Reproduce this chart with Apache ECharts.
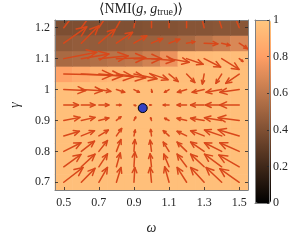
<!DOCTYPE html>
<html>
<head>
<meta charset="utf-8">
<style>html,body{margin:0;padding:0;background:#fff;}#c{width:291px;height:240px;}</style>
<script src="https://cdn.jsdelivr.net/npm/echarts@6/dist/echarts.min.js"></script>
</head>
<body>
<div id="c"></div>
<script>
// ---- data ----
const omega = [0.5, 0.6, 0.7, 0.8, 0.9, 1.0, 1.1, 1.2, 1.3, 1.4, 1.5];
const gamma = [0.7, 0.75, 0.8, 0.85, 0.9, 0.95, 1.0, 1.05, 1.1, 1.15, 1.2];
// mean NMI, one row per gamma (bottom to top), one column per omega
const nmi = [
  [0.96, 0.96, 0.96, 0.96, 0.96, 0.96, 0.96, 0.96, 0.96, 0.96, 0.96],
  [0.96, 0.96, 0.96, 0.96, 0.96, 0.96, 0.96, 0.96, 0.96, 0.96, 0.96],
  [0.96, 0.96, 0.96, 0.96, 0.96, 0.96, 0.96, 0.96, 0.96, 0.96, 0.96],
  [0.96, 0.96, 0.96, 0.96, 0.96, 0.96, 0.96, 0.96, 0.96, 0.96, 0.96],
  [0.96, 0.96, 0.96, 0.96, 0.96, 0.96, 0.96, 0.96, 0.96, 0.96, 0.96],
  [0.96, 0.96, 0.96, 0.96, 0.96, 0.96, 0.96, 0.96, 0.96, 0.96, 0.96],
  [0.96, 0.96, 0.96, 0.96, 0.96, 0.96, 0.96, 0.96, 0.96, 0.96, 0.96],
  [0.82, 0.86, 0.90, 0.92, 0.93, 0.94, 0.95, 0.95, 0.96, 0.96, 0.96],
  [0.53, 0.54, 0.56, 0.58, 0.60, 0.65, 0.74, 0.93, 0.94, 0.95, 0.95],
  [0.45, 0.46, 0.46, 0.47, 0.48, 0.49, 0.50, 0.53, 0.58, 0.63, 0.68],
  [0.39, 0.39, 0.40, 0.40, 0.40, 0.41, 0.41, 0.42, 0.42, 0.43, 0.43]
];
// flow vectors: omega component
const flowU = [
  [0.110, 0.078, 0.049, 0.026, 0.005, -0.008, -0.025, -0.054, -0.077, -0.089, -0.111],
  [0.098, 0.078, 0.049, 0.022, 0.005, -0.008, -0.030, -0.054, -0.077, -0.098, -0.116],
  [0.098, 0.075, 0.049, 0.026, 0.005, -0.008, -0.033, -0.054, -0.077, -0.098, -0.111],
  [0.089, 0.075, 0.054, 0.030, 0.007, -0.005, -0.033, -0.054, -0.077, -0.098, -0.120],
  [0.092, 0.078, 0.057, 0.026, 0.010, -0.005, -0.025, -0.054, -0.077, -0.098, -0.120],
  [0.084, 0.078, 0.057, 0.026, 0.010, -0.010, -0.033, -0.054, -0.077, -0.092, -0.111],
  [0.125, 0.120, 0.068, 0.047, 0.031, 0.003, -0.026, -0.052, -0.068, -0.089, -0.110],
  [0.277, 0.235, 0.198, 0.167, 0.131, 0.094, 0.052, 0.047, -0.010, -0.033, -0.077],
  [0.188, 0.157, 0.167, 0.167, 0.157, 0.131, 0.115, 0.094, 0.094, 0.099, 0.021],
  [0.131, 0.099, 0.094, 0.092, 0.073, 0.063, 0.061, 0.047, 0.078, 0.047, 0.047],
  [0.081, 0.077, 0.068, 0.057, 0.016, 0.000, 0.000, 0.000, -0.026, -0.034, -0.042]
];
// flow vectors: gamma component
const flowV = [
  [0.048, 0.045, 0.048, 0.048, 0.048, 0.048, 0.050, 0.048, 0.048, 0.048, 0.044],
  [0.040, 0.041, 0.042, 0.045, 0.048, 0.042, 0.041, 0.041, 0.041, 0.041, 0.038],
  [0.028, 0.033, 0.035, 0.038, 0.038, 0.036, 0.030, 0.030, 0.030, 0.028, 0.028],
  [0.015, 0.017, 0.019, 0.024, 0.019, 0.021, 0.017, 0.015, 0.017, 0.019, 0.020],
  [0.010, 0.010, 0.008, 0.012, 0.011, 0.009, 0.007, 0.007, 0.007, 0.009, 0.009],
  [0.000, 0.000, 0.000, 0.000, -0.002, 0.000, 0.000, 0.000, 0.000, 0.000, 0.000],
  [-0.003, -0.004, -0.006, -0.009, -0.009, -0.009, -0.009, -0.009, -0.009, -0.009, -0.009],
  [-0.003, -0.006, -0.009, -0.012, -0.015, -0.018, -0.024, -0.027, -0.032, -0.030, -0.030],
  [0.021, 0.015, 0.009, 0.003, 0.000, -0.006, -0.012, -0.018, -0.027, -0.035, -0.009],
  [0.053, 0.056, 0.045, 0.035, 0.024, 0.015, 0.013, 0.005, -0.002, -0.007, -0.018],
  [0.059, 0.059, 0.059, 0.059, 0.059, 0.059, 0.059, 0.059, 0.059, 0.059, 0.059]
];
const truePoint = [0.95, 0.94];
const xTicks = [0.5, 0.7, 0.9, 1.1, 1.3, 1.5];
const yTicks = [0.7, 0.8, 0.9, 1.0, 1.1, 1.2];
const cbTicks = [0, 0.2, 0.4, 0.6, 0.8, 1];
// copper colormap stops at 0, 0.2, ..., 1
const copper = ['#000000', '#402819', '#805033', '#bf784c', '#ff9f65', '#ffc77f'];

// ---- build series data ----
const cells = [], arrows = [];
gamma.forEach((g, i) => {
  omega.forEach((w, j) => {
    cells.push([w, g, nmi[i][j]]);
    arrows.push([w, g, flowU[i][j], flowV[i][j]]);
  });
});

const FONT = 'Liberation Serif, DejaVu Serif, serif';
const TXT = '#262626';
const AX = '#808080';
const ARROW = '#d9481a';

const chart = echarts.init(document.getElementById('c'), null, {renderer: 'canvas'});
const mainTick = (vals) => ({show: true, inside: true, length: 3, customValues: vals, lineStyle: {color: TXT, width: 0.8}});

chart.setOption({
  animation: false,
  grid: [
    {left: 37, top: 20, width: 211, height: 183},
    {left: 255, top: 20, width: 16, height: 183, z: 10}
  ],
  xAxis: [
    {type: 'value', gridIndex: 0, min: 0.45, max: 1.55, position: 'bottom', z: 5,
     name: 'ω', nameLocation: 'middle', nameGap: 31,
     nameTextStyle: {fontFamily: FONT, fontStyle: 'italic', fontSize: 14, color: TXT},
     axisLine: {show: true, onZero: false, lineStyle: {color: AX, width: 1}},
     axisTick: mainTick(xTicks),
     axisLabel: {customValues: xTicks, fontFamily: FONT, fontSize: 12, color: TXT, margin: 7},
     splitLine: {show: false}},
    {type: 'value', gridIndex: 0, min: 0.45, max: 1.55, position: 'top', z: 5,
     axisLine: {show: true, onZero: false, lineStyle: {color: AX, width: 1}},
     axisTick: mainTick(xTicks), axisLabel: {show: false}, splitLine: {show: false}},
    {type: 'value', gridIndex: 1, min: 0, max: 1, z: 10,
     axisLine: {show: true, onZero: false, lineStyle: {color: AX, width: 1}},
     axisTick: {show: false}, axisLabel: {show: false}, splitLine: {show: false}},
    {type: 'value', gridIndex: 1, min: 0, max: 1, position: 'top', z: 10,
     axisLine: {show: true, onZero: false, lineStyle: {color: AX, width: 1}},
     axisTick: {show: false}, axisLabel: {show: false}, splitLine: {show: false}}
  ],
  yAxis: [
    {type: 'value', gridIndex: 0, min: 0.675, max: 1.225, position: 'left', z: 5,
     name: 'γ', nameLocation: 'middle', nameGap: 33,
     nameTextStyle: {fontFamily: FONT, fontStyle: 'italic', fontSize: 14, color: TXT},
     axisLine: {show: true, onZero: false, lineStyle: {color: AX, width: 1}},
     axisTick: mainTick(yTicks),
     axisLabel: {customValues: yTicks, fontFamily: FONT, fontSize: 12, color: TXT, margin: 5},
     splitLine: {show: false}},
    {type: 'value', gridIndex: 0, min: 0.675, max: 1.225, position: 'right', z: 5,
     axisLine: {show: true, onZero: false, lineStyle: {color: AX, width: 1}},
     axisTick: mainTick(yTicks), axisLabel: {show: false}, splitLine: {show: false}},
    {type: 'value', gridIndex: 1, min: 0, max: 1, position: 'right', z: 10,
     axisLine: {show: true, onZero: false, lineStyle: {color: AX, width: 1}},
     axisTick: {show: true, inside: true, length: 2, customValues: cbTicks, lineStyle: {color: TXT, width: 0.8}},
     axisLabel: {customValues: cbTicks, fontFamily: FONT, fontSize: 12, color: TXT, margin: 4},
     splitLine: {show: false}},
    {type: 'value', gridIndex: 1, min: 0, max: 1, position: 'left', z: 10,
     axisLine: {show: true, onZero: false, lineStyle: {color: AX, width: 1}},
     axisTick: {show: false}, axisLabel: {show: false}, splitLine: {show: false}}
  ],
  visualMap: {
    type: 'continuous', min: 0, max: 1, seriesIndex: 0, dimension: 2,
    inRange: {color: copper}, calculable: false, show: true,
    left: 255, top: 20, itemWidth: 16, itemHeight: 183, padding: 0, hoverLink: false
  },
  graphic: [{
    type: 'text', x: 141, y: 9, z: 20,
    style: {
      text: '{n|⟨NMI(}{i|g}{n|, }{i|g}{s|true}{n|)⟩}',
      align: 'center', verticalAlign: 'middle',
      rich: {
        n: {fontFamily: FONT, fontSize: 14, lineHeight: 17, fill: TXT, verticalAlign: 'middle'},
        i: {fontFamily: FONT, fontSize: 14, fontStyle: 'italic', lineHeight: 17, fill: TXT, verticalAlign: 'middle'},
        s: {fontFamily: FONT, fontSize: 10, lineHeight: 11, fill: TXT, verticalAlign: 'bottom'}
      }
    }
  }],
  series: [
    {
      type: 'custom', xAxisIndex: 0, yAxisIndex: 0, data: cells, clip: true,
      encode: {x: 0, y: 1},
      renderItem: function (params, api) {
        const c = api.coord([api.value(0), api.value(1)]);
        const s = api.size([0.1, 0.05]);
        return {type: 'rect',
          shape: {x: c[0] - s[0] / 2 - 0.3, y: c[1] - s[1] / 2 - 0.3, width: s[0] + 0.6, height: s[1] + 0.6},
          style: {fill: echarts.color.lerp(api.value(2), copper), opacity: 1}};
      }
    },
    {
      type: 'custom', xAxisIndex: 0, yAxisIndex: 0, data: arrows, clip: true, z: 3,
      encode: {x: 0, y: 1},
      renderItem: function (params, api) {
        const x = api.value(0), y = api.value(1), u = api.value(2), v = api.value(3);
        const p0 = api.coord([x, y]);
        const p1 = api.coord([x + u, y + v]);
        const dx = p1[0] - p0[0], dy = p1[1] - p0[1];
        const L = Math.sqrt(dx * dx + dy * dy);
        if (L < 0.6) return null;
        const ux = dx / L, uy = dy / L;
        const h = Math.min(0.35 * L, 10);
        const w = h * 0.45;
        const bx = p1[0] - ux * h, by = p1[1] - uy * h;
        const st = {stroke: ARROW, lineWidth: 1.5, fill: null, lineCap: 'round', lineJoin: 'round', opacity: 1};
        return {type: 'group', children: [
          {type: 'line', shape: {x1: p0[0], y1: p0[1], x2: p1[0], y2: p1[1]}, style: st},
          {type: 'polyline', shape: {points: [[bx - uy * w, by + ux * w], p1, [bx + uy * w, by - ux * w]]}, style: st}
        ]};
      }
    },
    {
      type: 'scatter', xAxisIndex: 0, yAxisIndex: 0, z: 6,
      data: [truePoint], symbol: 'circle', symbolSize: 9,
      itemStyle: {color: '#3341c2', borderColor: '#000', borderWidth: 1, opacity: 1}
    }
  ]
});
</script>
</body>
</html>
